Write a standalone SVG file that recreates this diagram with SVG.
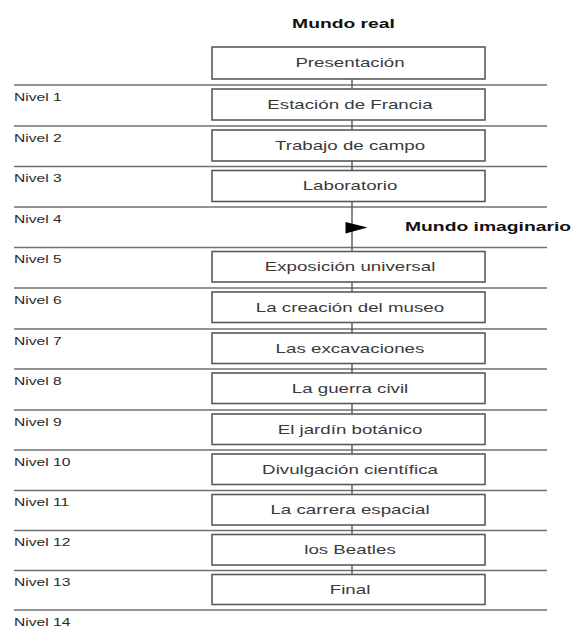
<svg xmlns="http://www.w3.org/2000/svg" width="573" height="628" viewBox="0 0 573 628">
<style>
  .bg { fill: #ffffff; }
  .lvl { stroke: #707070; stroke-width: 1.5; fill: none; }
  .box { fill: #ffffff; stroke: #595959; stroke-width: 1.6; }
  .conn { stroke: #555555; stroke-width: 1.4; fill: none; }
  .t { font-family: "Liberation Sans", Arial, sans-serif; font-size: 13px; fill: #3a3a3a; text-anchor: middle; }
  .n { font-family: "Liberation Sans", Arial, sans-serif; font-size: 11px; fill: #2a2a2a; }
  .h { font-family: "Liberation Sans", Arial, sans-serif; font-size: 13.5px; font-weight: bold; fill: #111111; }
</style>
<rect class="bg" x="0" y="0" width="573" height="628"/>

<g id="title">
  <text class="h" text-anchor="middle" transform="translate(343.5,28) scale(1.43,1)">Mundo real</text>
</g>

<g id="levels">
  <line class="lvl" x1="14" y1="85" x2="547" y2="85"/>
  <line class="lvl" x1="14" y1="126" x2="547" y2="126"/>
  <line class="lvl" x1="14" y1="166.5" x2="547" y2="166.5"/>
  <line class="lvl" x1="14" y1="207" x2="547" y2="207"/>
  <line class="lvl" x1="14" y1="247.5" x2="547" y2="247.5"/>
  <line class="lvl" x1="14" y1="288" x2="547" y2="288"/>
  <line class="lvl" x1="14" y1="329" x2="547" y2="329"/>
  <line class="lvl" x1="14" y1="369" x2="547" y2="369"/>
  <line class="lvl" x1="14" y1="410" x2="547" y2="410"/>
  <line class="lvl" x1="14" y1="450" x2="547" y2="450"/>
  <line class="lvl" x1="14" y1="490.5" x2="547" y2="490.5"/>
  <line class="lvl" x1="14" y1="530.5" x2="547" y2="530.5"/>
  <line class="lvl" x1="14" y1="570.5" x2="547" y2="570.5"/>
  <line class="lvl" x1="14" y1="610" x2="547" y2="610"/>
  <text class="n" transform="translate(14,100.5) scale(1.42,1)">Nivel 1</text>
  <text class="n" transform="translate(14,141.5) scale(1.42,1)">Nivel 2</text>
  <text class="n" transform="translate(14,182) scale(1.42,1)">Nivel 3</text>
  <text class="n" transform="translate(14,222.5) scale(1.42,1)">Nivel 4</text>
  <text class="n" transform="translate(14,263) scale(1.42,1)">Nivel 5</text>
  <text class="n" transform="translate(14,303.5) scale(1.42,1)">Nivel 6</text>
  <text class="n" transform="translate(14,344.5) scale(1.42,1)">Nivel 7</text>
  <text class="n" transform="translate(14,384.5) scale(1.42,1)">Nivel 8</text>
  <text class="n" transform="translate(14,425.5) scale(1.42,1)">Nivel 9</text>
  <text class="n" transform="translate(14,465.5) scale(1.42,1)">Nivel 10</text>
  <text class="n" transform="translate(14,506) scale(1.42,1)">Nivel 11</text>
  <text class="n" transform="translate(14,546) scale(1.42,1)">Nivel 12</text>
  <text class="n" transform="translate(14,586) scale(1.42,1)">Nivel 13</text>
  <text class="n" transform="translate(14,625.5) scale(1.42,1)">Nivel 14</text>
</g>

<g id="connectors">
  <line class="conn" x1="352" y1="79" x2="352" y2="89"/>
  <line class="conn" x1="352" y1="120" x2="352" y2="130"/>
  <line class="conn" x1="352" y1="161" x2="352" y2="170.5"/>
  <line class="conn" x1="352" y1="201.5" x2="352" y2="251.5"/>
  <polygon points="345.5,222 367.5,227.5 345.5,233.5" fill="#000000"/>
  <line class="conn" x1="352" y1="282" x2="352" y2="292"/>
  <line class="conn" x1="352" y1="322.5" x2="352" y2="333"/>
  <line class="conn" x1="352" y1="363.5" x2="352" y2="373"/>
  <line class="conn" x1="352" y1="403.5" x2="352" y2="414"/>
  <line class="conn" x1="352" y1="444.5" x2="352" y2="454"/>
  <line class="conn" x1="352" y1="484.5" x2="352" y2="494.5"/>
  <line class="conn" x1="352" y1="525" x2="352" y2="534.5"/>
  <line class="conn" x1="352" y1="565" x2="352" y2="574.5"/>
</g>

<g id="imaginario">
  <text class="h" transform="translate(405,231) scale(1.43,1)">Mundo imaginario</text>
</g>

<g id="n-presentacion"><rect class="box" x="212" y="47" width="273" height="32"/><text class="t" transform="translate(350,67) scale(1.44,1)">Presentación</text></g>
<g id="n-estacion"><rect class="box" x="212" y="89" width="273" height="31"/><text class="t" transform="translate(350,108.5) scale(1.44,1)">Estación de Francia</text></g>
<g id="n-trabajo"><rect class="box" x="212" y="130" width="273" height="31"/><text class="t" transform="translate(350,149.5) scale(1.44,1)">Trabajo de campo</text></g>
<g id="n-laboratorio"><rect class="box" x="212" y="170.5" width="273" height="31"/><text class="t" transform="translate(350,190) scale(1.44,1)">Laboratorio</text></g>
<g id="n-exposicion"><rect class="box" x="212" y="251.5" width="273" height="30.5"/><text class="t" transform="translate(350,271) scale(1.44,1)">Exposición universal</text></g>
<g id="n-creacion"><rect class="box" x="212" y="292" width="273" height="30.5"/><text class="t" transform="translate(350,311.5) scale(1.44,1)">La creación del museo</text></g>
<g id="n-excavaciones"><rect class="box" x="212" y="333" width="273" height="30.5"/><text class="t" transform="translate(350,352.5) scale(1.44,1)">Las excavaciones</text></g>
<g id="n-guerra"><rect class="box" x="212" y="373" width="273" height="30.5"/><text class="t" transform="translate(350,392.5) scale(1.44,1)">La guerra civil</text></g>
<g id="n-jardin"><rect class="box" x="212" y="414" width="273" height="30.5"/><text class="t" transform="translate(350,433.5) scale(1.44,1)">El jardín botánico</text></g>
<g id="n-divulgacion"><rect class="box" x="212" y="454" width="273" height="30.5"/><text class="t" transform="translate(350,473.5) scale(1.44,1)">Divulgación científica</text></g>
<g id="n-carrera"><rect class="box" x="212" y="494.5" width="273" height="30.5"/><text class="t" transform="translate(350,514) scale(1.44,1)">La carrera espacial</text></g>
<g id="n-beatles"><rect class="box" x="212" y="534.5" width="273" height="30.5"/><text class="t" transform="translate(350,554) scale(1.44,1)">los Beatles</text></g>
<g id="n-final"><rect class="box" x="212" y="574.5" width="273" height="30"/><text class="t" transform="translate(350,594) scale(1.44,1)">Final</text></g>
</svg>
